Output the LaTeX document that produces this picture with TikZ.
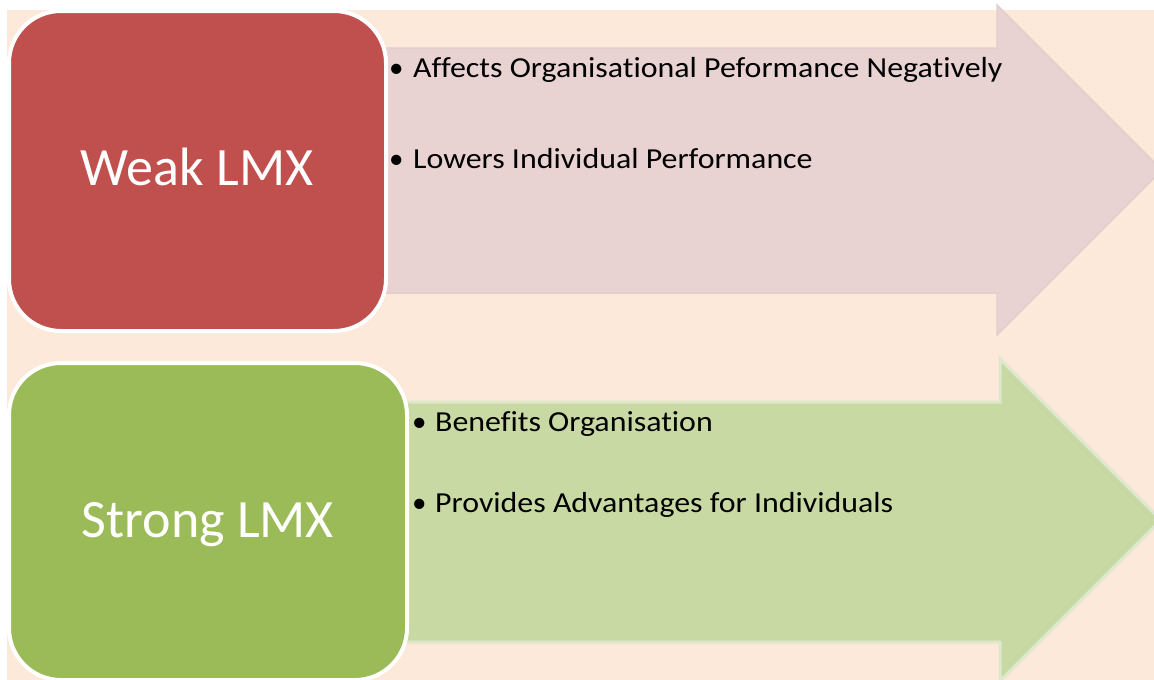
\documentclass[tikz,border=0pt]{standalone}
\usepackage{fontspec}
\setmainfont[Ligatures=NoCommon]{Carlito}
\newfontfamily\widefont[Ligatures=NoCommon, FakeStretch=1.1]{Carlito}
\definecolor{peach}{HTML}{FDE9D9}
\definecolor{boxred}{HTML}{C0504D}
\definecolor{boxgreen}{HTML}{9BBB59}
\definecolor{arrred}{HTML}{E8D2D2}
\definecolor{arrredline}{HTML}{E5CDCD}
\definecolor{arrgreen}{HTML}{C9D9A3}
\definecolor{arrgreenline}{HTML}{DDE8CC}
\tikzset{
  lmxbox/.style={draw=white, line width=4pt, rounded corners=52pt},
  lmxtitle/.style={text=white, font=\fontsize{54}{60}\selectfont, inner sep=0pt, anchor=base},
  bulletmark/.style={font=\fontsize{29}{34}\selectfont, inner sep=0pt, anchor=base west},
  bullettext/.style={font=\widefont\fontsize{29}{34}\selectfont, inner sep=0pt, anchor=base west},
}
\begin{document}
\begin{tikzpicture}[x=1pt,y=-1pt]
\useasboundingbox (0,0) rectangle (1154,680);
\fill[white] (0,0) rectangle (1154,680);
\fill[peach] (7,10) rectangle (1154,680);
\begin{scope}
\clip (0,0) rectangle (1154,680);
% red arrow
\filldraw[fill=arrred, draw=arrredline, line width=1.5pt, line join=miter]
  (300,48) -- (997,48) -- (997,5) -- (1162,170) -- (997,335) -- (997,293) -- (300,293) -- cycle;
% green arrow
\filldraw[fill=arrgreen, draw=arrgreenline, line width=3pt, line join=miter]
  (320,402) -- (1000,402) -- (1000,359) -- (1161,520) -- (1000,681) -- (1000,642) -- (320,642) -- cycle;
% boxes
\filldraw[lmxbox, fill=boxred] (9,11) rectangle (386,331);
\filldraw[lmxbox, fill=boxgreen] (9,363) rectangle (407,680);
\end{scope}
\node[lmxtitle] (weak) at (197,185) {Weak LMX};
\node[lmxtitle] (strong) at (208,537) {Strong LMX};
\node[bulletmark] (b1) at (389,77) {•};
\node[bullettext] (t1) at (413,77) {Affects Organisational Peformance Negatively};
\node[bulletmark] (b2) at (389,168) {•};
\node[bullettext] (t2) at (413,168) {Lowers Individual Performance};
\node[bulletmark] (b3) at (412,431) {•};
\node[bullettext] (t3) at (435,431) {Benefits Organisation};
\node[bulletmark] (b4) at (412,512) {•};
\node[bullettext] (t4) at (435,512) {Provides Advantages for Individuals};
\end{tikzpicture}
\end{document}
